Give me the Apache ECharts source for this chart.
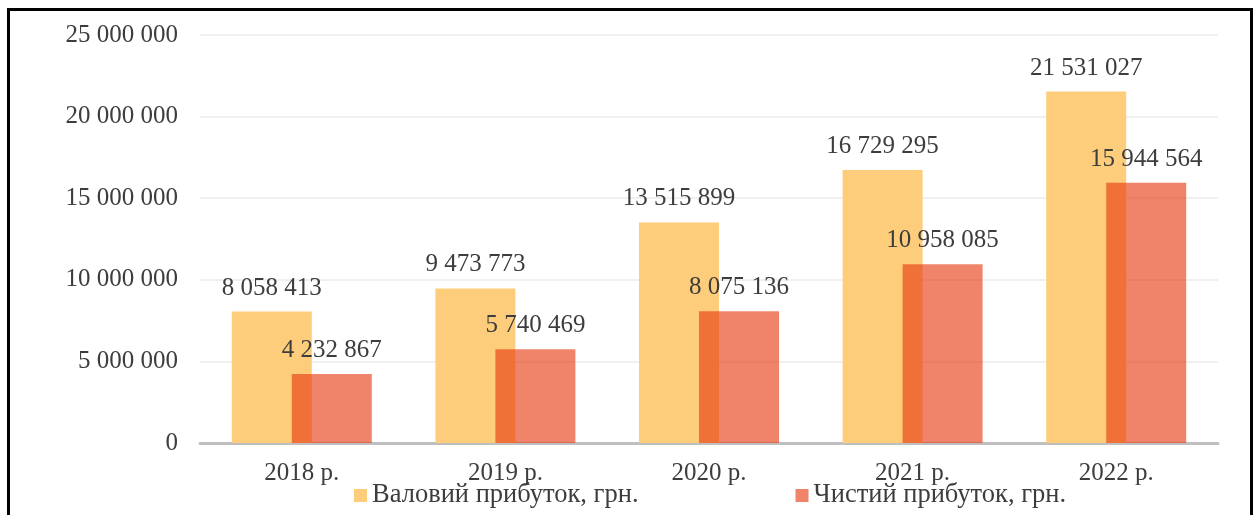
<!DOCTYPE html>
<html>
<head>
<meta charset="utf-8">
<script src="https://cdn.jsdelivr.net/npm/echarts@6/dist/echarts.min.js"></script>
<style>
  html, body { margin: 0; padding: 0; background: #fff; }
  #chart { width: 1260px; height: 515px; position: absolute; left: 0; top: 0; }
  .frame {
    position: absolute; left: 7px; top: 8px;
    width: 1240px; height: 520px;
    border: 3px solid #000;
  }
</style>
</head>
<body>
<div class="frame"></div>
<div id="chart"></div>
<script>
  // data
  var years = ['2018 р.', '2019 р.', '2020 р.', '2021 р.', '2022 р.']
  var grossProfit = [8058413, 9473773, 13515899, 16729295, 21531027]
  var netProfit = [4232867, 5740469, 8075136, 10958085, 15944564]
  var seriesNames = ['Валовий прибуток, грн.', 'Чистий прибуток, грн.']

  var FONT = 'Liberation Serif'
  var TEXT = '#3d3d3d'

  function spaced(v) {
    return String(v).replace(/\B(?=(\d{3})+(?!\d))/g, ' ')
  }

  var chart = echarts.init(document.getElementById('chart'))

  chart.setOption({
    animation: false,
    textStyle: { fontFamily: FONT },
    grid: { left: 200, right: 42, top: 35, bottom: 72 },
    legend: {
      left: 349,
      top: 477,
      itemWidth: 13,
      itemHeight: 13,
      itemGap: 157,
      icon: 'rect',
      textStyle: { fontFamily: FONT, fontSize: 26.5, color: TEXT },
      data: seriesNames
    },
    xAxis: {
      type: 'category',
      data: years,
      axisLine: { lineStyle: { color: '#BFBFBF', width: 3 } },
      axisTick: { show: false },
      axisLabel: { fontFamily: FONT, fontSize: 25, color: TEXT, margin: 18 }
    },
    yAxis: {
      type: 'value',
      min: 0,
      max: 25000000,
      interval: 5000000,
      axisLine: { show: false },
      axisTick: { show: false },
      splitLine: { lineStyle: { color: '#EBEBEB', width: 1.5 } },
      axisLabel: {
        fontFamily: FONT, fontSize: 25, color: TEXT, margin: 22,
        formatter: spaced
      }
    },
    series: [
      {
        name: seriesNames[0],
        type: 'bar',
        data: grossProfit,
        barWidth: 80,
        barGap: '-25%',
        itemStyle: { color: '#FECD7C' },
        label: {
          show: true, position: 'top', distance: 11,
          fontFamily: FONT, fontSize: 25, color: TEXT,
          formatter: function (p) { return spaced(p.value) }
        }
      },
      {
        name: seriesNames[1],
        type: 'bar',
        data: netProfit,
        barWidth: 80,
        itemStyle: { color: 'rgba(231, 57, 15, 0.62)' },
        label: {
          show: true, position: 'top', distance: 11,
          fontFamily: FONT, fontSize: 25, color: TEXT,
          formatter: function (p) { return spaced(p.value) }
        }
      }
    ]
  })
</script>
</body>
</html>
